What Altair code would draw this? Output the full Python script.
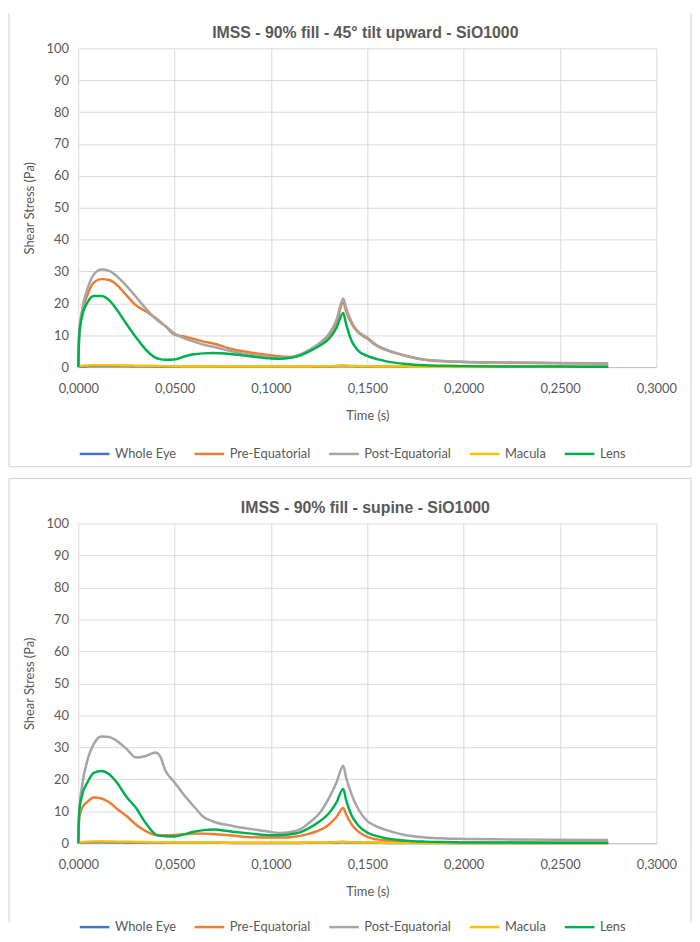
import altair as alt
import pandas as pd

# ---------------- data ----------------
TIME = [0, 0.0005, 0.002, 0.005, 0.008, 0.012, 0.016, 0.02, 0.025, 0.03,
        0.035, 0.04, 0.0425, 0.045, 0.05, 0.055, 0.06, 0.065, 0.07, 0.08,
        0.09, 0.1, 0.105, 0.11, 0.115, 0.12, 0.125, 0.13, 0.134, 0.1375,
        0.139, 0.142, 0.145, 0.15, 0.155, 0.16, 0.17, 0.18, 0.19, 0.2,
        0.22, 0.25, 0.275]

SERIES = ["Whole Eye", "Pre-Equatorial", "Post-Equatorial", "Macula", "Lens"]
COLORS = ["#4472C4", "#ED7D31", "#A5A5A5", "#FFC000", "#00B050"]

X_TICKS = [0, 0.05, 0.1, 0.15, 0.2, 0.25, 0.3]
Y_TICKS = [0, 10, 20, 30, 40, 50, 60, 70, 80, 90, 100]

TITLE_TILT = "IMSS - 90% fill - 45° tilt upward - SiO1000"
TITLE_SUPINE = "IMSS - 90% fill - supine - SiO1000"

# 45° tilt upward
TILT_WHOLE = [0, 0.1, 0.2, 0.3, 0.35, 0.35, 0.35, 0.3, 0.3, 0.25,
              0.25, 0.2, 0.2, 0.2, 0.15, 0.15, 0.15, 0.15, 0.15, 0.1,
              0.1, 0.1, 0.1, 0.1, 0.15, 0.15, 0.2, 0.25, 0.3, 0.4,
              0.35, 0.3, 0.25, 0.2, 0.15, 0.15, 0.1, 0.1, 0.1, 0.1,
              0.1, 0.1, 0.1]
TILT_PRE = [0, 10, 17, 23, 26.5, 27.6, 27.3, 25.8, 22.5, 19.3,
            17.5, 15.5, 14.2, 13.0, 10.2, 9.6, 8.8, 8.0, 7.4, 5.6,
            4.5, 3.7, 3.3, 3.2, 3.9, 5.2, 7.2, 10, 14, 20.3,
            17.5, 13.5, 11, 9, 6.6, 5.3, 3.5, 2.3, 1.8, 1.6,
            1.4, 1.2, 1.1]
TILT_POST = [0, 11, 18, 25, 29, 30.6, 30.2, 28.5, 25.5, 22,
             18.4, 15.2, 14, 13, 10.5, 9.0, 8.0, 7.0, 6.4, 4.9,
             3.8, 3.1, 2.9, 3.0, 3.9, 5.4, 7.4, 10.3, 14.8, 21.5,
             18.5, 14, 11.3, 9.3, 6.8, 5.5, 3.6, 2.3, 1.9, 1.7,
             1.5, 1.3, 1.1]
TILT_MACULA = [0, 0.2, 0.4, 0.5, 0.6, 0.6, 0.6, 0.55, 0.5, 0.45,
               0.4, 0.35, 0.3, 0.3, 0.25, 0.2, 0.2, 0.2, 0.2, 0.15,
               0.15, 0.15, 0.15, 0.15, 0.2, 0.2, 0.25, 0.3, 0.4, 0.5,
               0.45, 0.35, 0.3, 0.25, 0.2, 0.2, 0.15, 0.1, 0.1, 0.1,
               0.1, 0.1, 0.1]
TILT_LENS = [0, 10, 16, 20.5, 22.3, 22.3, 21, 18, 13.5, 9.3,
             5.5, 3.0, 2.5, 2.3, 2.4, 3.3, 4.0, 4.3, 4.4, 4.0,
             3.3, 2.7, 2.6, 2.9, 3.6, 5.0, 6.6, 8.8, 12.3, 17,
             13.5, 8, 5.3, 3.5, 2.5, 1.8, 1.0, 0.6, 0.4, 0.3,
             0.2, 0.15, 0.1]

# supine
SUPINE_WHOLE = [0, 0.1, 0.2, 0.3, 0.3, 0.35, 0.3, 0.3, 0.25, 0.25,
                0.2, 0.2, 0.2, 0.15, 0.15, 0.15, 0.15, 0.15, 0.15, 0.1,
                0.1, 0.1, 0.1, 0.1, 0.1, 0.15, 0.15, 0.2, 0.25, 0.35,
                0.3, 0.25, 0.2, 0.15, 0.15, 0.1, 0.1, 0.1, 0.1, 0.1,
                0.1, 0.1, 0.1]
SUPINE_PRE = [0, 8, 11, 13.1, 14.3, 14.0, 12.8, 10.8, 8.5, 5.8,
              3.8, 2.6, 2.5, 2.5, 2.6, 2.8, 3.0, 3.0, 2.9, 2.4,
              1.9, 1.8, 1.8, 1.9, 2.3, 3.0, 4.0, 5.8, 8.2, 11,
              9, 5.8, 3.8, 2.0, 1.2, 0.8, 0.4, 0.25, 0.2, 0.15,
              0.1, 0.1, 0.1]
SUPINE_POST = [0, 10, 18, 26.5, 31, 33.4, 33.2, 32.0, 29.5, 26.8,
               27.3, 28.4, 27.2, 23, 19, 15, 11.5, 8.2, 6.8, 5.4,
               4.4, 3.5, 3.2, 3.5, 4.3, 6.5, 9.2, 14, 19, 24.2,
               20.5, 15, 11, 6.9, 5.2, 4.1, 2.5, 1.8, 1.5, 1.35,
               1.2, 1.1, 1.0]
SUPINE_MACULA = [0, 0.2, 0.4, 0.5, 0.55, 0.6, 0.55, 0.5, 0.45, 0.4,
                 0.35, 0.3, 0.3, 0.25, 0.25, 0.2, 0.2, 0.2, 0.2, 0.15,
                 0.15, 0.15, 0.15, 0.15, 0.15, 0.2, 0.2, 0.25, 0.35, 0.45,
                 0.4, 0.3, 0.25, 0.2, 0.2, 0.15, 0.15, 0.1, 0.1, 0.1,
                 0.1, 0.1, 0.1]
SUPINE_LENS = [0, 10, 15, 19.3, 22, 22.6, 21.6, 19, 14.5, 11,
               6.3, 2.8, 2.3, 2.2, 2.1, 2.8, 3.6, 4.1, 4.3, 3.6,
               3.0, 2.5, 2.5, 2.8, 3.4, 4.8, 6.7, 9.3, 12.8, 17,
               13.5, 8.5, 5.8, 3.3, 2.2, 1.5, 0.8, 0.5, 0.35, 0.25,
               0.2, 0.15, 0.15]

# ---------------- styling ----------------
FONT = "Lato"
TEXT_COLOR = "#595959"
GRID_COLOR = "#D9D9D9"
BORDER_COLOR = "#D0D0D0"
PLOT_W = 584


def long_df(lists):
    rows = []
    for name, vals in zip(SERIES, lists):
        for t, v in zip(TIME, vals):
            rows.append({"time": t, "stress": v, "series": name})
    return pd.DataFrame(rows)


def rule(**enc):
    one = alt.Data(values=[{"k": 1}])
    return alt.Chart(one).mark_rule(color=BORDER_COLOR, strokeWidth=1).encode(**enc)


def panel(lists, title, height, border_top, border_bottom, sides, legend_y):
    df = long_df(lists)
    x = alt.X(
        "time:Q",
        scale=alt.Scale(domain=[0, 0.3], nice=False, zero=False),
        axis=alt.Axis(
            values=X_TICKS,
            labelExpr="replace(format(datum.value, '.4f'), '.', ',')",
            title="Time (s)",
            ticks=False,
            domain=True,
            domainColor="#BFBFBF",
            labelPadding=16,
            titlePadding=14,
            labelFlush=False,
        ),
    )
    y = alt.Y(
        "stress:Q",
        scale=alt.Scale(domain=[0, 100], nice=False),
        axis=alt.Axis(
            values=Y_TICKS,
            title="Shear Stress (Pa)",
            ticks=False,
            domain=False,
            labelPadding=10,
            titlePadding=10,
        ),
    )
    lines = alt.Chart(df).mark_line(strokeWidth=2.5, interpolate="monotone").encode(
        x=x,
        y=y,
        color=alt.Color(
            "series:N",
            sort=SERIES,
            scale=alt.Scale(domain=SERIES, range=COLORS),
            legend=alt.Legend(
                orient="none",
                legendX=0,
                legendY=legend_y,
                direction="horizontal",
                columns=5,
                title=None,
                symbolType="stroke",
                symbolSize=900,
                symbolStrokeWidth=2.5,
                labelFont=FONT,
                labelFontSize=13,
                labelColor=TEXT_COLOR,
                labelOffset=4,
                columnPadding=13,
            ),
        ),
    )

    one = alt.Data(values=[{"k": 1}])
    title_mark = alt.Chart(one).mark_text(
        text=title,
        font="Liberation Sans",
        fontSize=16,
        fontWeight="bold",
        color=TEXT_COLOR,
        align="center",
        baseline="middle",
    ).encode(x=alt.value(290), y=alt.value(-15.5))

    layers = [
        rule(x=alt.value(-70), y=alt.value(border_top), y2=alt.value(border_bottom)),
        rule(x=alt.value(619), y=alt.value(border_top), y2=alt.value(border_bottom)),
    ]
    if "top" in sides:
        layers.append(rule(x=alt.value(-70), x2=alt.value(619), y=alt.value(border_top)))
    if "bottom" in sides:
        layers.append(rule(x=alt.value(-70), x2=alt.value(619), y=alt.value(border_bottom)))

    return alt.layer(*layers, title_mark, lines).properties(
        width=PLOT_W, height=height
    )


top_panel = panel([TILT_WHOLE, TILT_PRE, TILT_POST, TILT_MACULA, TILT_LENS],
                  TITLE_TILT, 322, -35.4, 422.6, ["bottom"], 393)
bottom_panel = panel([SUPINE_WHOLE, SUPINE_PRE, SUPINE_POST, SUPINE_MACULA, SUPINE_LENS],
                     TITLE_SUPINE, 323, -45.4, 403, ["top"], 391)

chart = (
    alt.vconcat(top_panel, bottom_panel, spacing=10)
    .resolve_scale(color="independent")
    .resolve_legend(color="independent")
    .properties(padding=0, background="white")
    .configure_view(stroke=None)
    .configure_axis(
        gridColor=GRID_COLOR,
        gridWidth=1,
        labelFont=FONT,
        labelFontSize=13,
        labelColor=TEXT_COLOR,
        titleFont=FONT,
        titleFontSize=13,
        titleFontWeight="normal",
        titleColor=TEXT_COLOR,
    )
)

chart.save("out.html", embed_options={"renderer": "svg", "actions": False})
